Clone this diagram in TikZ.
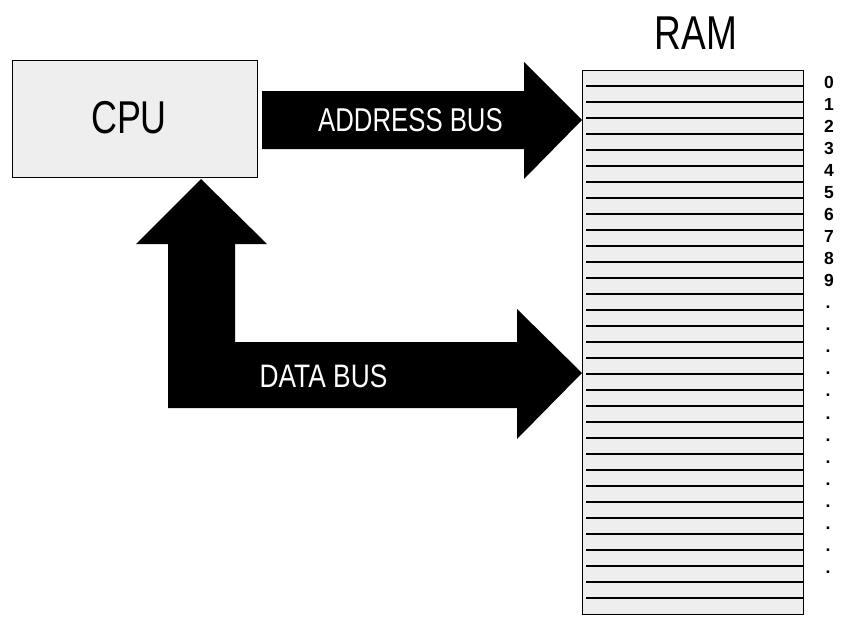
\documentclass[tikz,border=0pt]{standalone}
\usepackage{fontspec}
\setmainfont{Liberation Sans}
\newfontfamily\condfont[FakeStretch=0.78]{Liberation Sans}
\newfontfamily\condfontb[FakeStretch=0.81]{Liberation Sans}
\definecolor{boxgray}{HTML}{EEEEEE}
\begin{document}
\begin{tikzpicture}[x=1pt,y=-1pt,
  box/.style={draw=black, fill=boxgray, inner sep=0pt, anchor=north west},
  bus/.style={fill=black, draw=none},
  buslabel/.style={text=white, inner sep=0pt},
  title/.style={inner sep=0pt, text=black},
  addr/.style={inner sep=0pt, anchor=base, font=\bfseries\fontsize{17.5}{17.5}\selectfont},
  cell/.style={line width=1.3pt, black}
]
\useasboundingbox (0,0) rectangle (852,632);

% CPU
\node[box, line width=1pt, minimum width=245pt, minimum height=117pt] (cpu) at (12,60) {};
\node[title, font=\condfont\fontsize{46}{46}\selectfont] (cputext) at (129,118) {CPU};

% RAM
\node[box, line width=1.4pt, minimum width=221pt, minimum height=544pt] (ram) at (582,70) {};
\node[title, font=\condfont\fontsize{47.5}{47.5}\selectfont] (ramtext) at (696,33) {RAM};
\foreach \k in {0,...,32} {
  \draw[cell] (586,86+16*\k) -- (ram.east |- 0,86+16*\k);
}
\foreach \k in {0,...,9} {
  \node[addr] (n\k) at (829,88+22.07*\k) {\k};
}
\foreach \k in {10,...,22} {
  \node[addr] (n\k) at (828,88+22.07*\k) {.};
}

% Address bus
\coordinate (atip) at (ram.west |- 0,120);
\fill[bus] (262,91) -- (524,91) -- (524,62) -- (atip) -- (524,179) -- (524,149) -- (262,149) -- cycle;
\node[buslabel, font=\condfont\fontsize{33}{33}\selectfont] (addrlabel) at (410.5,120.5) {ADDRESS BUS};

% Data bus
\coordinate (dtip) at (ram.west |- 0,373);
\coordinate (utip) at (201,179);
\fill[bus] (utip) -- (267,244) -- (235,244) -- (235,342) -- (517,342) -- (517,309) -- (dtip)
  -- (517,439) -- (517,408) -- (168,408) -- (168,244) -- (136,244) -- cycle;
\node[buslabel, font=\condfontb\fontsize{32.5}{32.5}\selectfont] (datalabel) at (323.5,376.5) {DATA BUS};
\end{tikzpicture}
\end{document}
